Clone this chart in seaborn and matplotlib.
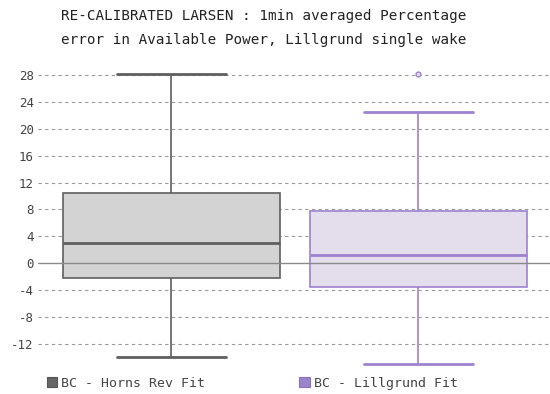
import matplotlib
matplotlib.use("Agg")
import matplotlib.pyplot as plt
from matplotlib.patches import Patch
import numpy as np
import pandas as pd
import seaborn as sns

# Five-number summaries of the 1-min averaged percentage error per fit
fits = ["BC - Horns Rev Fit", "BC - Lillgrund Fit"]
whisker_low = [-14.0, -15.1]
q1 = [-2.16, -3.55]
median = [3.0, 1.14]
q3 = [10.37, 7.68]
whisker_high = [28.2, 22.45]
outliers = [[], [28.1]]

y_ticks = [-12, -8, -4, 0, 4, 8, 12, 16, 20, 24, 28]

fill_colors = ["#d3d3d3", "#e2dbee"]
edge_colors = ["#5f5f5f", "#9d82cf"]
legend_colors = ["#666666", "#9c84cc"]

# Nine-point samples whose quartiles and whisker ends equal the summaries
rows = []
for i, fit in enumerate(fits):
    tail = outliers[i][0] if outliers[i] else whisker_high[i]
    sample = [whisker_low[i], q1[i], q1[i], median[i], median[i],
              q3[i], q3[i], whisker_high[i], tail]
    rows += [(fit, v) for v in sample]
df = pd.DataFrame(rows, columns=["fit", "error"])

sns.set_theme(style="white")
plt.rcParams["font.family"] = ["DejaVu Sans Mono", "DejaVu Sans"]

fig = plt.figure(figsize=(5.5, 3.94), dpi=100)
ax = fig.add_axes([0.069, 0.06, 0.931, 0.785])

sns.boxplot(data=df, x="fit", y="error", hue="fit", order=fits,
            palette=fill_colors, width=0.88, whis=1.5, linewidth=1.2,
            fliersize=3.5, legend=False, ax=ax, zorder=2)

# Per-box edge colours
for i, patch in enumerate(ax.patches[:2]):
    patch.set_edgecolor(edge_colors[i])
    patch.set_alpha(None)
for i, fit in enumerate(fits):
    ec = edge_colors[i]
    for line in ax.lines:
        xd = np.asarray(line.get_xdata(), dtype=float)
        if xd.size and abs(np.mean(xd) - i) < 0.5:
            line.set_color(ec)
            line.set_markeredgecolor(ec)
            line.set_markerfacecolor(fill_colors[i])
# Heavier median and cap lines
for line in ax.lines:
    yd = np.asarray(line.get_ydata(), dtype=float)
    xd = np.asarray(line.get_xdata(), dtype=float)
    if yd.size == 2 and yd[0] == yd[1] and xd[0] != xd[1]:
        line.set_linewidth(2.0)

# Horizontal guide lines; the zero line sits over the boxes
for y in y_ticks:
    if y == 0:
        ax.axhline(y, color="#8a8a8a", lw=1.0, zorder=2.5)
    else:
        ax.axhline(y, color="#9a9a9a", lw=0.8, ls=(0, (3, 3)), zorder=0)

ax.set_xlim(-0.54, 1.533)
ax.set_ylim(-16.0, 30.1)
ax.set_yticks(y_ticks)
ax.set_yticklabels([str(t) for t in y_ticks], fontsize=9, color="#444444")
ax.set_xticks([])
ax.set_xlabel("")
ax.set_ylabel("")
ax.tick_params(axis="y", length=0, pad=3)
for s in ax.spines.values():
    s.set_visible(False)

fig.suptitle("RE-CALIBRATED LARSEN : 1min averaged Percentage\n"
             "error in Available Power, Lillgrund single wake",
             x=0.48, y=0.978, fontsize=10.3, color="#222222",
             linespacing=1.9, va="top")

handles = [Patch(facecolor=legend_colors[i], edgecolor="#555555" if i == 0 else "#8a70c0",
                 lw=0.8) for i in range(2)]
fig.legend(handles, fits, loc="lower left", bbox_to_anchor=(0.063, -0.02),
           ncol=2, frameon=False, fontsize=9.5, handlelength=0.8,
           handleheight=0.8, handletextpad=0.3, columnspacing=7.15,
           labelcolor="#444444")

fig.savefig("out.png", dpi=100)
